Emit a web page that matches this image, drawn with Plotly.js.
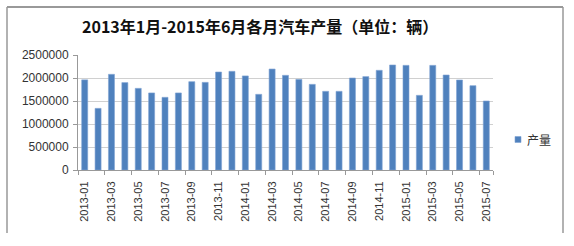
<!DOCTYPE html>
<html>
<head>
<meta charset="utf-8">
<script src="https://cdn.plot.ly/plotly-3.0.1.min.js"></script>
<style>html,body{margin:0;padding:0;background:#fff;}#chart{width:574px;height:246px;}</style>
</head>
<body>
<div id="chart"></div>
<script>
const months = ["2013-01","2013-02","2013-03","2013-04","2013-05","2013-06","2013-07","2013-08","2013-09","2013-10","2013-11","2013-12",
"2014-01","2014-02","2014-03","2014-04","2014-05","2014-06","2014-07","2014-08","2014-09","2014-10","2014-11","2014-12",
"2015-01","2015-02","2015-03","2015-04","2015-05","2015-06","2015-07"];
const production = [1960000,1340000,2080000,1900000,1775000,1675000,1580000,1675000,1920000,1905000,2130000,2145000,
2045000,1645000,2195000,2058000,1970000,1862000,1710000,1710000,2000000,2030000,2167000,2283000,
2275000,1623000,2275000,2065000,1957000,1833000,1500000];
const seriesName = "产量";
const chartTitle = "2013年1月-2015年6月各月汽车产量（单位：辆）";
const yTicks = [0,500000,1000000,1500000,2000000,2500000];
const xTickLabels = months.filter((m,i)=>i%2===0);

const barColor = "#4F81BD";
const PL = 78, PR = 493, PT = 55, PB = 170;
const px = v => (v - PL) / (PR - PL);
const py = v => (PB - v) / (PB - PT);

const trace = {
  type: "bar",
  x: months,
  y: production,
  name: seriesName,
  marker: {color: barColor, line: {color: "#7FA3D3", width: 0.6}},
  showlegend: false,
  hoverinfo: "x+y"
};

const layout = {
  width: 574, height: 246,
  margin: {l: PL, r: 574 - PR, t: PT, b: 246 - PB},
  paper_bgcolor: "#fff",
  plot_bgcolor: "#fff",
  bargap: 0.55,
  showlegend: false,
  title: {
    text: chartTitle,
    font: {family: "Noto Sans CJK SC", size: 16, color: "#111", weight: "bold"},
    x: 82/574, xanchor: "left", xref: "container",
    y: 1 - 27/246, yanchor: "middle", yref: "container"
  },
  xaxis: {
    type: "category",
    tickmode: "array",
    tickvals: xTickLabels,
    ticktext: xTickLabels,
    tickson: "boundaries",
    ticks: "outside", ticklen: 4, tickcolor: "#999",
    tickangle: -90,
    ticklabelstandoff: 6,
    showgrid: false,
    showline: true, linecolor: "#999", linewidth: 1,
    tickfont: {family: "Liberation Sans", size: 11, color: "#333"},
    range: [-0.5, months.length - 0.5],
    fixedrange: true
  },
  yaxis: {
    range: [0, 2500000],
    tickmode: "array",
    tickvals: yTicks,
    ticktext: yTicks.map(String),
    ticks: "outside", ticklen: 4, tickcolor: "#999",
    showgrid: true, gridcolor: "#d0d0d0", gridwidth: 1,
    showline: true, linecolor: "#999", linewidth: 1,
    zeroline: false,
    tickfont: {family: "Liberation Sans", size: 12, color: "#333"},
    ticklabelstandoff: 2,
    fixedrange: true
  },
  annotations: [
    {xref: "paper", yref: "paper", x: px(525), y: py(139.5), xanchor: "left", yanchor: "middle",
     text: seriesName, showarrow: false,
     font: {family: "Noto Sans CJK SC", size: 12, color: "#333"}}
  ],
  shapes: [
    {type: "rect", xref: "paper", yref: "paper", x0: px(515), x1: px(521), y0: py(136.5), y1: py(142.5),
     fillcolor: barColor, line: {color: "#7FA3D3", width: 0.6}},
    {type: "line", xref: "paper", yref: "paper", x0: px(7), x1: px(563), y0: py(7), y1: py(7), line: {color: "#999", width: 2}},
    {type: "line", xref: "paper", yref: "paper", x0: px(7), x1: px(7), y0: py(7), y1: py(233), line: {color: "#999", width: 1.5}},
    {type: "line", xref: "paper", yref: "paper", x0: px(563), x1: px(563), y0: py(7), y1: py(233), line: {color: "#999", width: 1.5}}
  ]
};

Plotly.newPlot("chart", [trace], layout, {displayModeBar: false, staticPlot: true});
</script>
</body>
</html>
